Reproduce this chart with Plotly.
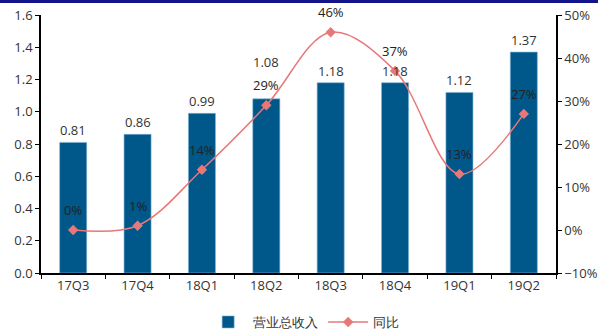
import plotly.graph_objects as go

categories = ["17Q3", "17Q4", "18Q1", "18Q2", "18Q3", "18Q4", "19Q1", "19Q2"]
revenue = [0.81, 0.86, 0.99, 1.08, 1.18, 1.18, 1.12, 1.37]
yoy = [0.00, 0.01, 0.14, 0.29, 0.46, 0.37, 0.13, 0.27]
rev_labels = ["0.81", "0.86", "0.99", "1.08", "1.18", "1.18", "1.12", "1.37"]
yoy_labels = ["0%", "1%", "14%", "29%", "46%", "37%", "13%", "27%"]

font_family = "Open Sans, Liberation Sans, sans-serif"
txt = "#333333"

fig = go.Figure()
fig.add_trace(go.Bar(
    x=categories, y=revenue, name="营业总收入",
    marker=dict(color="#00578A", line=dict(color="#7FB3D5", width=0.6)),
    width=0.42,
))
fig.add_trace(go.Scatter(
    x=categories, y=yoy, name="同比", yaxis="y2",
    mode="lines+markers",
    line=dict(color="#E87878", width=1.5, shape="spline", smoothing=1.0),
    marker=dict(symbol="diamond", size=8, color="#E87878"),
))

annotations = []
# bar value labels (18Q2 label sits higher to avoid the line label)
bar_shift = {"18Q2": 25}
for c, v, t in zip(categories, revenue, rev_labels):
    annotations.append(dict(x=c, y=v, xref="x", yref="y", text=t, showarrow=False,
                            yanchor="middle", yshift=12 + bar_shift.get(c, 0),
                            font=dict(size=13, color=txt, family=font_family)))
for c, v, t in zip(categories, yoy, yoy_labels):
    annotations.append(dict(x=c, y=v, xref="x", yref="y2", text=t, showarrow=False,
                            yanchor="middle", yshift=20,
                            font=dict(size=13, color="#222222", family=font_family)))

fig.update_layout(
    width=598, height=331,
    margin=dict(l=41, r=42, t=15, b=58, autoexpand=False),
    paper_bgcolor="white", plot_bgcolor="white",
    font=dict(family=font_family, size=12, color=txt),
    showlegend=True,
    legend=dict(orientation="h", x=0.51, xanchor="center", y=-49/258, yanchor="middle",
                font=dict(size=13, color=txt), traceorder="normal", itemwidth=40),
    xaxis=dict(
        showline=True, linecolor="black", linewidth=1.5, automargin=False,
        ticks="outside", tickson="boundaries", ticklen=4, tickcolor="black",
        showgrid=False, tickfont=dict(size=13, color=txt),
    ),
    yaxis=dict(
        range=[0, 1.6], dtick=0.2, tickformat=".1f", automargin=False,
        showline=True, linecolor="black", linewidth=1.5,
        ticks="outside", ticklen=4, tickcolor="black",
        showgrid=False, zeroline=False, tickfont=dict(size=13, color=txt),
    ),
    yaxis2=dict(
        range=[-0.1, 0.5], dtick=0.1, tickformat=".0%", automargin=False,
        overlaying="y", side="right",
        showline=True, linecolor="black", linewidth=1.5,
        ticks="outside", ticklen=4, tickcolor="black",
        showgrid=False, zeroline=False, tickfont=dict(size=13, color=txt),
    ),
    annotations=annotations,
    shapes=[dict(type="rect", xref="paper", yref="paper",
                 x0=-0.1, x1=1.1, y0=1 + 12/258, y1=1 + 16/258,
                 fillcolor="#14148A", line=dict(width=0), layer="above")],
)

fig.write_html("out.html", config={"displayModeBar": False},
               post_script="document.body.style.margin='0';document.body.style.overflow='hidden';")
